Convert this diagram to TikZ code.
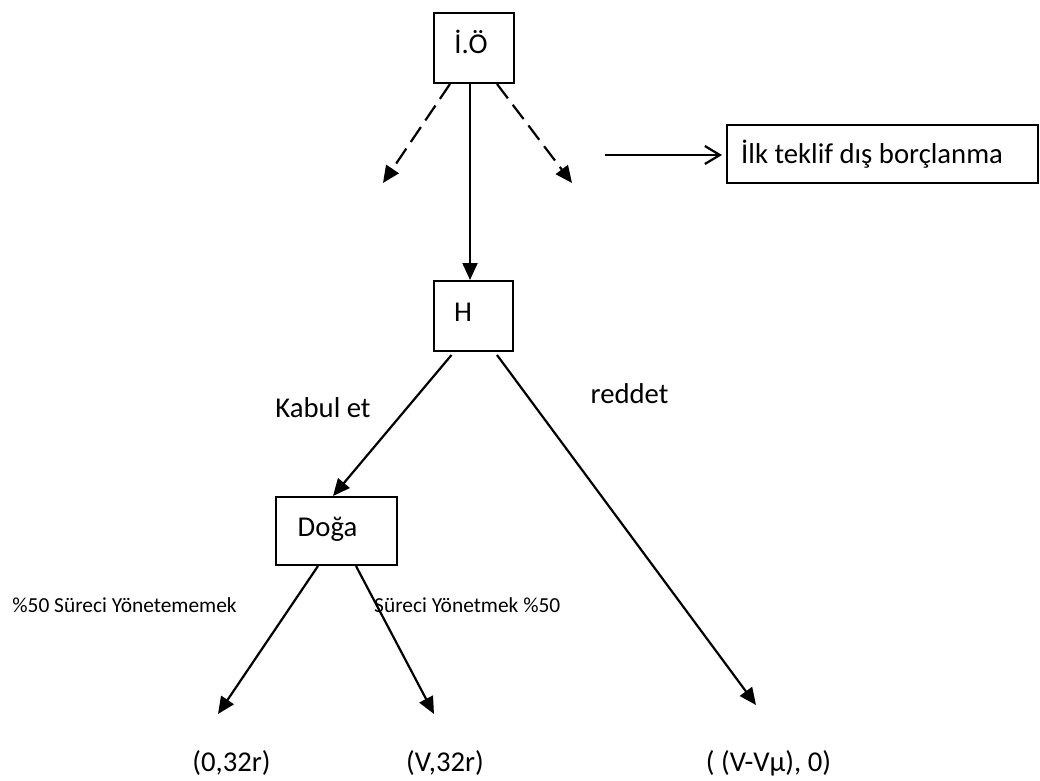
\documentclass[tikz,border=0pt]{standalone}
\usepackage{fontspec}
\setmainfont{Carlito}
\usetikzlibrary{arrows.meta}
\tikzset{
  box/.style={draw, line width=2pt, inner sep=0pt},
  conn/.style={line width=2.2pt, -{Triangle[length=17pt,width=15pt]}},
  dconn/.style={conn, dash pattern=on 18pt off 8pt},
  big/.style={font=\fontsize{28.7}{32}\selectfont, inner sep=0pt, anchor=base},
  small/.style={font=\fontsize{21.4}{24}\selectfont, inner sep=0pt, anchor=base}
}
\begin{document}
\begin{tikzpicture}[x=1pt,y=-1pt]
\useasboundingbox (0,0) rectangle (1040,780);
% boxes
\node[box, minimum width=80pt, minimum height=70pt] (io) at (474,48) {};
\node[big] (iot) at (471,53) {İ.Ö};
\node[box, minimum width=79pt, minimum height=70pt] (h) at (473.5,316) {};
\node[big] (ht) at (463,321) {H};
\node[box, minimum width=121pt, minimum height=68pt] (doga) at (336.5,531) {};
\node[big] (dogat) at (327.5,536) {Doğa};
\node[box, minimum width=311pt, minimum height=58pt] (teklif) at (882.5,154) {};
\node[big, anchor=base west] (teklift) at (741,163) {İlk teklif dış borçlanma};
% labels
\node[big] (kabul) at (323,417) {Kabul et};
\node[big] (reddet) at (629.5,403) {reddet};
\node[small] (l1) at (124.5,612) {\%50 Süreci Yönetememek};
\node[small, anchor=base west] (l2) at (374,612) {Süreci Yönetmek \%50};
\node[big] (p1) at (231.5,771) {(0,32r)};
\node[big] (p2) at (445,771) {(V,32r)};
\node[big] (p3) at (768.5,771) {( (V-Vμ), 0)};
% free ends
\coordinate (dl) at (383,183);
\coordinate (dr) at (572,183);
\coordinate (as) at (605,155);
\coordinate (e1) at (218,714);
\coordinate (e2) at (434,714);
\coordinate (e3) at (756,705);
% connectors
\draw[dconn] ([xshift=-24pt]io.south) -- (dl);
\draw[dconn] ([xshift=23pt]io.south) -- (dr);
\draw[conn] ([xshift=-4pt]io.south) -- ([xshift=-3.5pt]h.north);
\draw[line width=2.2pt, -{Straight Barb[length=15pt,width=18pt,line width=2.2pt]}, shorten >=4pt] (as) -- (teklif.west |- as);
\draw[conn] ([xshift=-22pt,yshift=-3pt]h.south) -- ([xshift=-3.5pt]doga.north);
\draw[conn] ([xshift=23.5pt,yshift=-3pt]h.south) -- (e3);
\draw[conn] ([xshift=-18.5pt]doga.south) -- (e1);
\draw[conn] ([xshift=19.5pt]doga.south) -- (e2);
\end{tikzpicture}
\end{document}
